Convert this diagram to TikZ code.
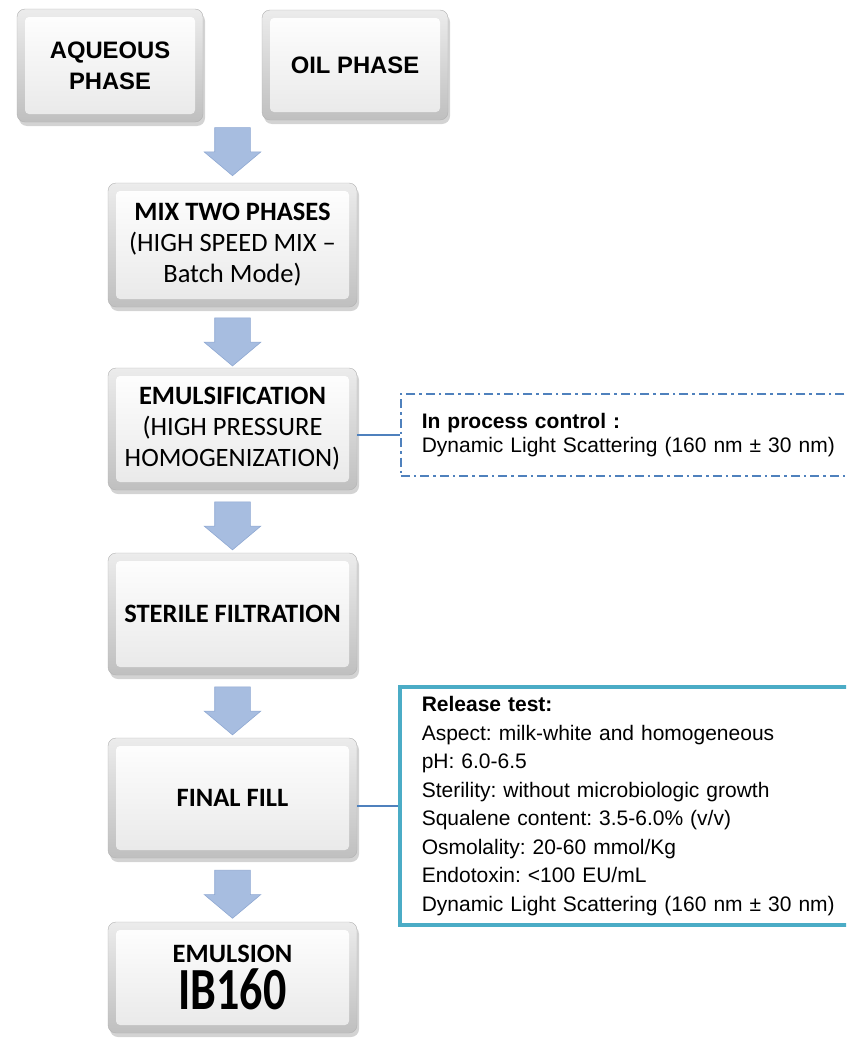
\documentclass[tikz,border=0pt]{standalone}
\usepackage{fontspec}
\usepackage{graphicx}
\setmainfont{Liberation Sans}
\newfontfamily\calibri{Carlito}
\frenchspacing
\usetikzlibrary{shapes.arrows,shadows,calc}
\definecolor{arrowblue}{HTML}{A7BDE0}
\definecolor{arrowedge}{HTML}{8FA8D2}
\definecolor{linkblue}{HTML}{4F81BD}
\definecolor{tealbox}{HTML}{4BACC6}
\tikzset{
  stepbox/.style={rounded corners=8pt, draw=gray!60, top color=gray!15, bottom color=gray!50,
    align=center, inner sep=0pt, minimum width=249pt,
    font=\calibri\fontsize{26.5}{31}\selectfont,
    drop shadow={shadow xshift=2pt, shadow yshift=-4pt, opacity=0.35},
    path picture={\shade[top color=white, bottom color=gray!18, rounded corners=4pt]
      ([shift={(8pt,-8pt)}]path picture bounding box.north west) rectangle
      ([shift={(-8pt,8pt)}]path picture bounding box.south east);}},
  phasebox/.style={stepbox, minimum width=186pt, font=\bfseries\fontsize{23.8}{31}\selectfont},
  flowarrow/.style={single arrow, rotate=-90, fill=arrowblue, draw=arrowedge, line width=0.6pt,
    minimum height=48pt, inner xsep=0pt, inner ysep=17.5pt, single arrow head extend=10.5pt,
    single arrow tip angle=100},
  link/.style={draw=linkblue, line width=1.3pt},
  ctrlbox/.style={draw=linkblue, line width=1.6pt, dash pattern=on 9pt off 4pt on 2.5pt off 4pt,
    minimum height=82pt, text width=480pt, inner xsep=21pt, align=left,
    font=\fontsize{21}{24}\selectfont},
  testbox/.style={draw=tealbox, line width=3.5pt, minimum height=238pt, text width=480pt,
    inner xsep=22pt, align=left, font=\fontsize{21}{28.5}\selectfont}
}
\begin{document}
\begin{tikzpicture}[x=1pt, y=-1pt]
    \useasboundingbox (0,0) rectangle (846,1044);
    \clip (0,0) rectangle (846,1044);
    % starting phases
    \node[phasebox, minimum height=113pt] (aq) at (110,65.5) {AQUEOUS\\PHASE};
    \node[phasebox, minimum height=110pt] (oil) at (355,65) {OIL PHASE};
    % process column
    \node[stepbox, minimum height=124pt] (mix) at (232.5,245)
        {\textbf{MIX TWO PHASES}\\(HIGH SPEED MIX –\\Batch Mode)};
    \node[stepbox, minimum height=122pt] (emul) at (232.5,429)
        {\textbf{EMULSIFICATION}\\(HIGH PRESSURE\\HOMOGENIZATION)};
    \node[stepbox, minimum height=122pt] (steril) at (232.5,614) {\textbf{STERILE FILTRATION}};
    \node[stepbox, minimum height=120pt] (fill) at (232.5,798) {\textbf{FINAL FILL}};
    \node[stepbox, minimum height=111pt] (emulsion) at (232.5,977.5)
        {\textbf{EMULSION}\\[5pt]{\bfseries\fontsize{46}{41}\selectfont\scalebox{1}[1.3]{IB160}}};
    % block arrows
    \node[flowarrow] (a1) at ($(aq.south)!0.5!(oil.south)+(0,23)$) {};
    \node[flowarrow] (a2) at ($(mix.south)!0.45!(emul.north)$) {};
    \node[flowarrow] (a3) at ($(emul.south)!0.45!(steril.north)$) {};
    \node[flowarrow] (a4) at ($(steril.south)!0.45!(fill.north)$) {};
    \node[flowarrow] (a5) at ($(fill.south)!0.45!(emulsion.north)$) {};
    % controls
    \node[ctrlbox, anchor=west] (ipc) at (400,435)
        {\textbf{In process control :}\\Dynamic Light Scattering (160 nm ± 30 nm)};
    \node[testbox, anchor=west] (rel) at (398,806)
        {\textbf{Release test:}\\
         Aspect: milk-white and homogeneous\\
         pH: 6.0-6.5\\
         Sterility: without microbiologic growth\\
         Squalene content: 3.5-6.0\% (v/v)\\
         Osmolality: 20-60 mmol/Kg\\
         Endotoxin: <100 EU/mL\\
         Dynamic Light Scattering (160 nm ± 30 nm)};
    \draw[link] (emul.east |- ipc.west) -- (ipc.west);
    \draw[link] (fill.east |- rel.west) -- (rel.west);
\end{tikzpicture}
\end{document}
